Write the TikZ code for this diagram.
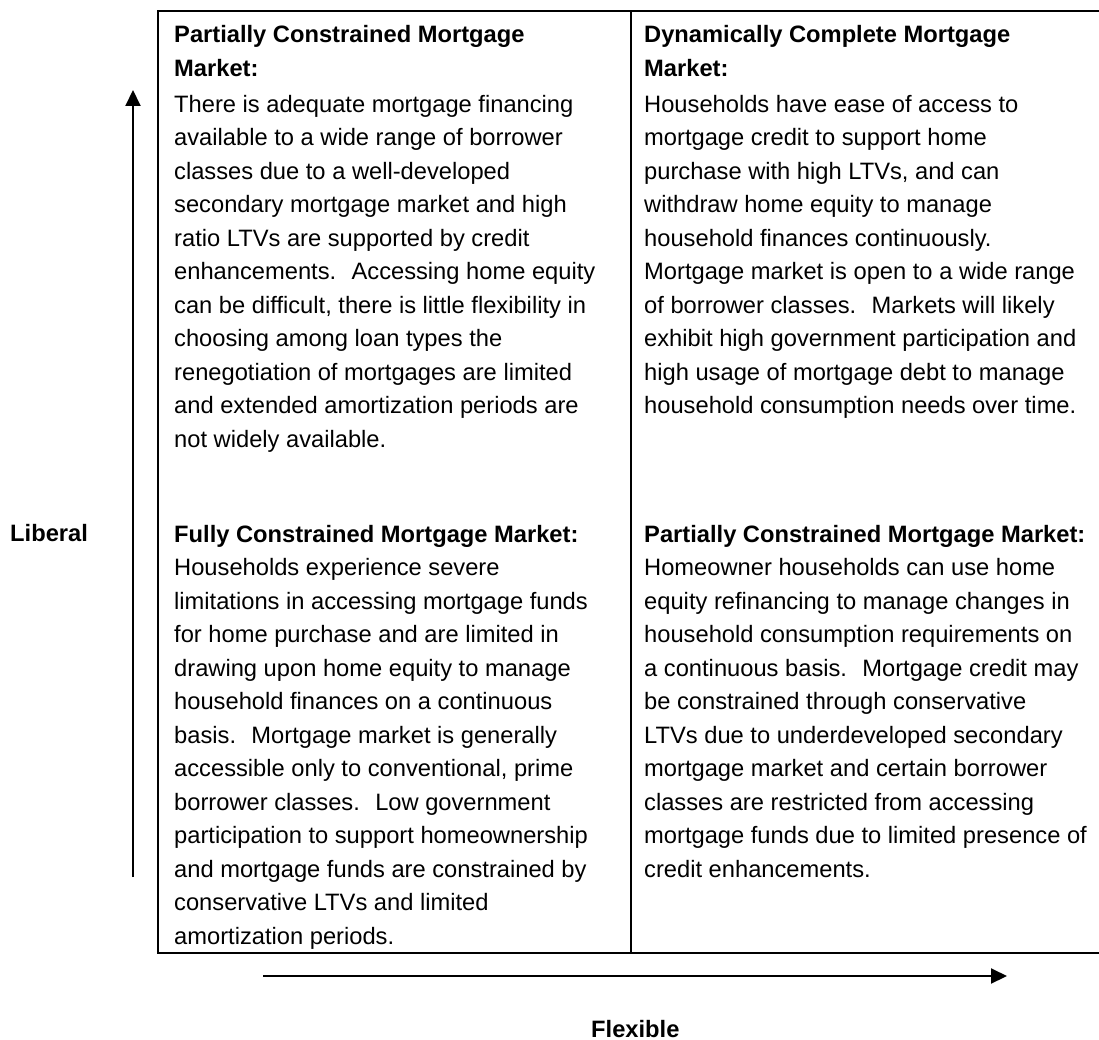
\documentclass[tikz,border=0pt]{standalone}
\usepackage{fontspec}
\setmainfont{Liberation Sans}
\usetikzlibrary{arrows.meta}
\newcommand\cellbox[1]{\parbox[t]{455pt}{#1}}
\tikzset{cell/.style={anchor=base west, inner sep=0pt, font=\fontsize{23.7}{33.5}\selectfont},
  axis/.style={black, line width=2pt, -{Triangle[length=16pt,width=15pt]}}}

\begin{document}
\begin{tikzpicture}[x=1pt,y=-1pt]
\useasboundingbox (0,0) rectangle (1099,1040);

\coordinate (A) at (158,11);
\coordinate (B) at (1100,11);
\coordinate (C) at (158,953);
\coordinate (D) at (1100,953);
\coordinate (M) at (631,11);
\coordinate (N) at (631,953);

\draw[black,line width=2pt] (B)--(A)--(C)--(D);
\draw[black,line width=2pt] (M)--(N);

\node[cell] (partial) at (174,42.7) {\cellbox{\textbf{Partially Constrained Mortgage}\\
\textbf{Market:}\\[2.5pt]
There is adequate mortgage financing\\
available to a wide range of borrower\\
classes due to a well-developed\\
secondary mortgage market and high\\
ratio LTVs are supported by credit\\
enhancements.~ Accessing home equity\\
can be difficult, there is little flexibility in\\
choosing among loan types the\\
renegotiation of mortgages are limited\\
and extended amortization periods are\\
not widely available.}};

\node[cell] (complete) at (644,42.7) {\cellbox{\textbf{Dynamically Complete Mortgage}\\
\textbf{Market:}\\[2.5pt]
Households have ease of access to\\
mortgage credit to support home\\
purchase with high LTVs, and can\\
withdraw home equity to manage\\
household finances continuously.\\
Mortgage market is open to a wide range\\
of borrower classes.~ Markets will likely\\
exhibit high government participation and\\
high usage of mortgage debt to manage\\
household consumption needs over time.}};

\node[cell] (full) at (174,542) {\cellbox{\textbf{Fully Constrained Mortgage Market:}\\
Households experience severe\\
limitations in accessing mortgage funds\\
for home purchase and are limited in\\
drawing upon home equity to manage\\
household finances on a continuous\\
basis.~ Mortgage market is generally\\
accessible only to conventional, prime\\
borrower classes.~ Low government\\
participation to support homeownership\\
and mortgage funds are constrained by\\
conservative LTVs and limited\\
amortization periods.}};

\node[cell] (partialb) at (644,542) {\cellbox{\textbf{Partially Constrained Mortgage Market:}\\
Homeowner households can use home\\
equity refinancing to manage changes in\\
household consumption requirements on\\
a continuous basis.~ Mortgage credit may\\
be constrained through conservative\\
LTVs due to underdeveloped secondary\\
mortgage market and certain borrower\\
classes are restricted from accessing\\
mortgage funds due to limited presence of\\
credit enhancements.}};

\node[cell] (liberal) at (10,541) {\textbf{Liberal}};
\node[cell] (flexible) at (591,1037) {\textbf{Flexible}};

\coordinate (U1) at (133,877);
\coordinate (U2) at (133,90);
\coordinate (R1) at (263,976);
\coordinate (R2) at (1007,976);

\draw[axis] (U1)--(U2);
\draw[axis] (R1)--(R2);

\end{tikzpicture}
\end{document}
